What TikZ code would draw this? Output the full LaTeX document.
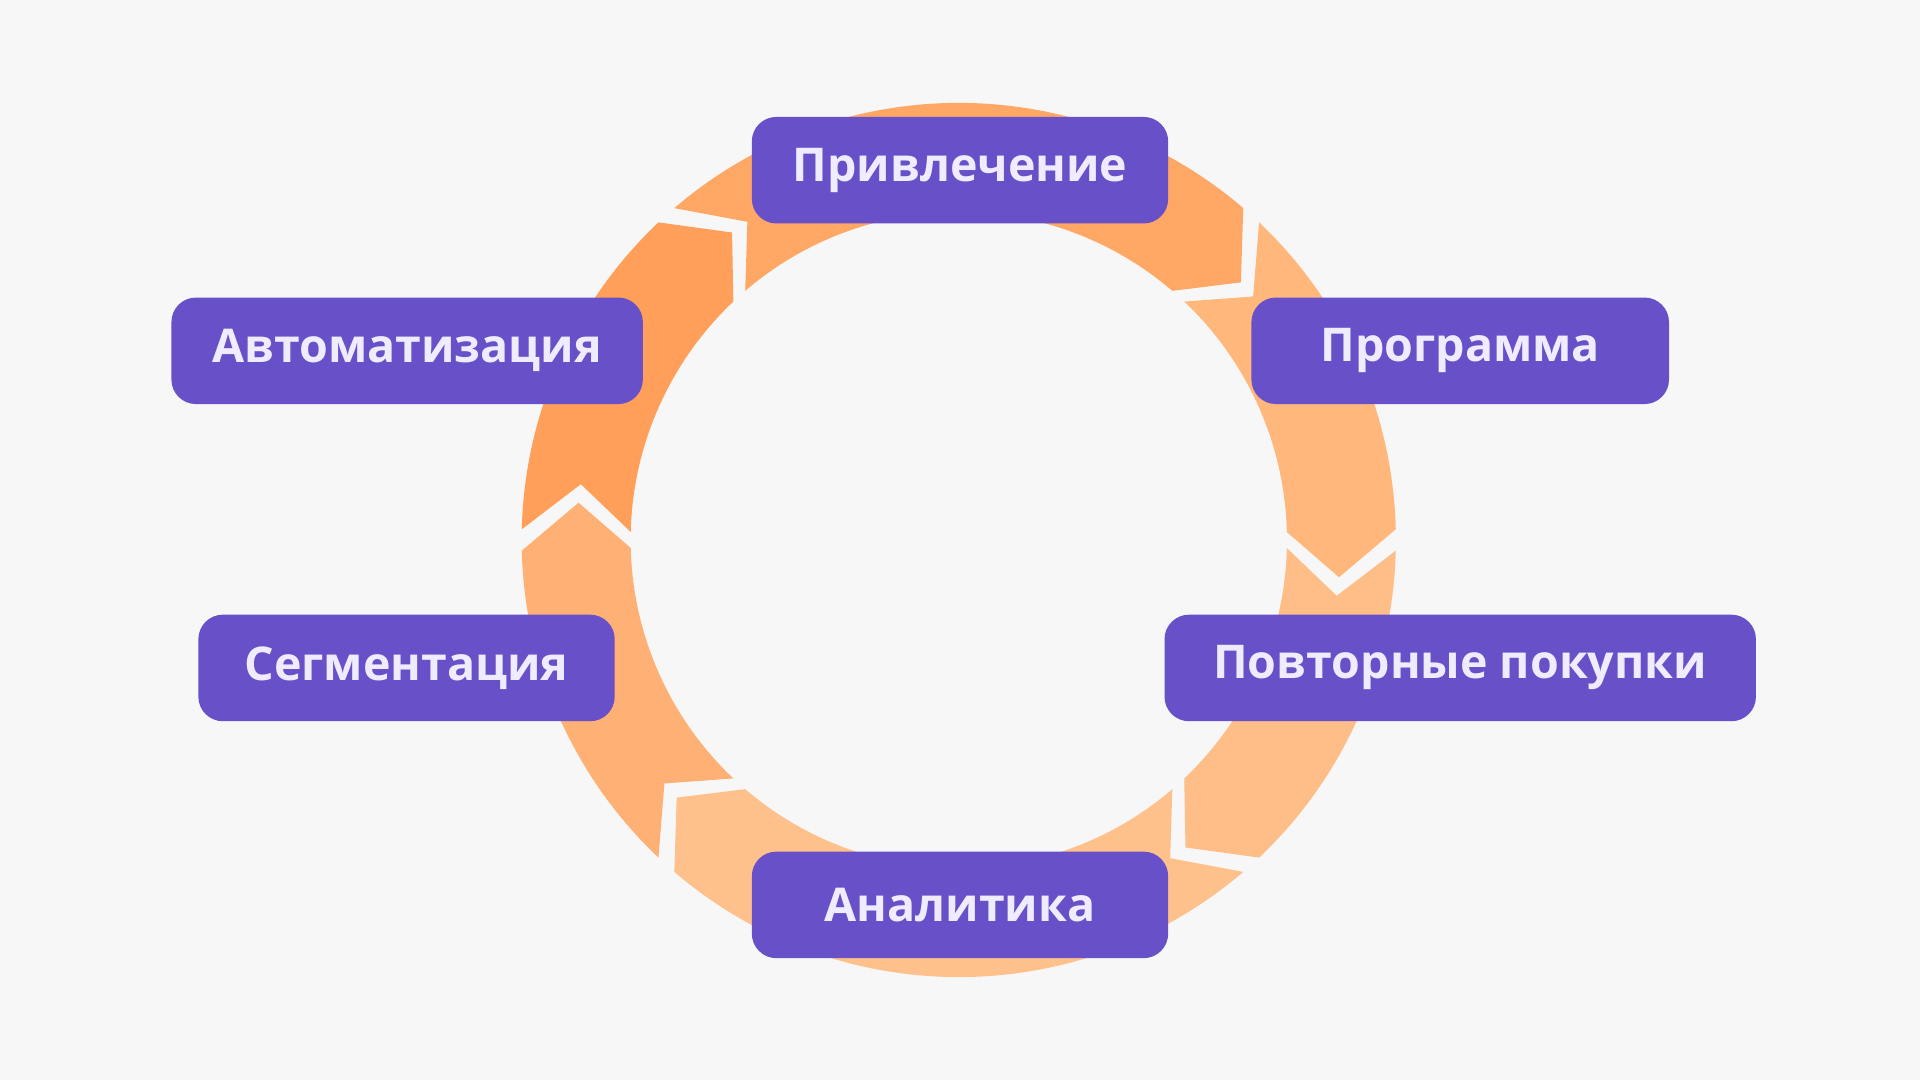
\documentclass[tikz,border=0pt]{standalone}
\usepackage{fontspec}
\setmainfont{Open Sans}
\definecolor{bg}{HTML}{F7F7F7}
\definecolor{pbox}{HTML}{6750C8}
\definecolor{ptext}{HTML}{F0ECFF}
\tikzset{lbl/.style={fill=pbox,rounded corners=20pt,minimum height=87pt,text=ptext,font=\fontsize{38}{46}\selectfont\bfseries,inner sep=0pt}}
\begin{document}
\begin{tikzpicture}[x=1pt,y=1pt]
\fill[bg] (0,0) rectangle (1568,882);
\useasboundingbox (0,0) rectangle (1568,882);
\begin{scope}[shift={(783,441)}]
\def\g{1.4}\def\d{7}
\foreach \s/\e/\c in {180/132/FF9F5A, 132/48/FFA865, 48/0/FFB77C, 0/-48/FFBE87, -48/-132/FFC18C, -132/-180/FFB074}{
  \definecolor{segc}{HTML}{\c}
  \fill[segc] (\s-\g:357) arc[start angle=\s-\g, end angle=\e+\g, radius=357]
    -- (\e+\g-\d:312) -- (\e+\g:268)
    arc[start angle=\e+\g, end angle=\s-\g, radius=268]
    -- (\s-\g-\d:312) -- cycle;
}
\end{scope}
\node[lbl,minimum width=340pt] (a) at (784,743) {Привлечение};
\node[lbl,minimum width=341pt] (b) at (1192.5,595.5) {Программа};
\node[lbl,minimum width=483pt] (c) at (1192.5,336.5) {Повторные покупки};
\node[lbl,minimum width=340pt] (d) at (784,143) {Аналитика};
\node[lbl,minimum width=340pt] (e) at (332,336.5) {Сегментация};
\node[lbl,minimum width=385pt] (f) at (332.5,595.5) {Автоматизация};
\end{tikzpicture}
\end{document}
